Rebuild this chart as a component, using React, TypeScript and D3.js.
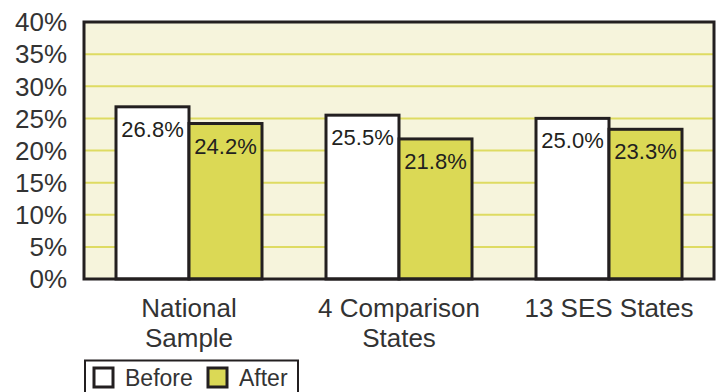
import React from "react";
import * as d3 from "d3";

const categories = [["National", "Sample"], ["4 Comparison", "States"], ["13 SES States"]];
const seriesNames = ["Before", "After"];
const beforeValues = [26.8, 25.5, 25.0];
const afterValues = [24.2, 21.8, 23.3];
const yTicks = [0, 5, 10, 15, 20, 25, 30, 35, 40];

const W = 720;
const H = 392;
const plot = { left: 84, right: 714, top: 22, bottom: 279 };
const font = "'Liberation Sans', Arial, Helvetica, sans-serif";
const ink = "#231f20";
const cream = "#f6f4dc";
const yellow = "#dbd955";
const gridYellow = "#dedb62";

export default function App() {
  const x = d3
    .scaleBand<number>()
    .domain(categories.map((_, i) => i))
    .range([plot.left, plot.right])
    .paddingInner(0)
    .paddingOuter(0);
  const y = d3.scaleLinear().domain([0, 40]).range([plot.bottom, plot.top]);
  const barW = 73;
  const sub = d3
    .scaleBand<number>()
    .domain([0, 1])
    .range([0, barW * 2]);

  const series = [
    { name: seriesNames[0], values: beforeValues, fill: "#ffffff" },
    { name: seriesNames[1], values: afterValues, fill: yellow },
  ];

  return (
    <svg
      width={W}
      height={H}
      style={{ position: "absolute", left: 0, top: 0 }}
      fontFamily={font}
    >
      <rect
        x={plot.left}
        y={plot.top}
        width={plot.right - plot.left}
        height={plot.bottom - plot.top}
        fill={cream}
      />
      {yTicks
        .filter((t) => t > 0 && t < 40)
        .map((t) => (
          <line
            key={t}
            x1={plot.left}
            x2={plot.right}
            y1={y(t)}
            y2={y(t)}
            stroke={gridYellow}
            strokeWidth={2}
          />
        ))}
      {yTicks.map((t) => (
        <text
          key={t}
          x={67}
          y={y(t)}
          dy="0.36em"
          textAnchor="end"
          fontSize={26}
          fill="#333"
        >
          {t}%
        </text>
      ))}
      {categories.map((lines, ci) => {
        const cx = (x(ci) as number) + x.bandwidth() / 2;
        const gx = cx - barW;
        return (
          <g key={ci}>
            {series.map((s, si) => {
              const v = s.values[ci];
              const bx = gx + (sub(si) as number);
              const by = y(v);
              return (
                <g key={si}>
                  <rect
                    x={bx}
                    y={by}
                    width={barW}
                    height={plot.bottom - by}
                    fill={s.fill}
                    stroke={ink}
                    strokeWidth={3}
                  />
                  <text
                    x={bx + barW / 2}
                    y={by + 30}
                    textAnchor="middle"
                    fontSize={22}
                    fill={ink}
                  >
                    {v.toFixed(1)}%
                  </text>
                </g>
              );
            })}
            {lines.map((ln, li) => (
              <text
                key={li}
                x={cx}
                y={317 + li * 30}
                textAnchor="middle"
                fontSize={26}
                fill="#333"
              >
                {ln}
              </text>
            ))}
          </g>
        );
      })}
      <rect
        x={plot.left}
        y={plot.top}
        width={plot.right - plot.left}
        height={plot.bottom - plot.top}
        fill="none"
        stroke={ink}
        strokeWidth={3}
      />
      {/* legend */}
      <rect
        x={85}
        y={360.5}
        width={213}
        height={40}
        fill="#fff"
        stroke={ink}
        strokeWidth={2}
      />
      {series.map((s, i) => {
        const lx = i === 0 ? 94 : 208;
        return (
          <g key={s.name}>
            <rect
              x={lx}
              y={368}
              width={19}
              height={19}
              fill={s.fill}
              stroke={ink}
              strokeWidth={3}
            />
            <text x={lx + 31} y={386} fontSize={23} fill="#333">
              {s.name}
            </text>
          </g>
        );
      })}
    </svg>
  );
}
